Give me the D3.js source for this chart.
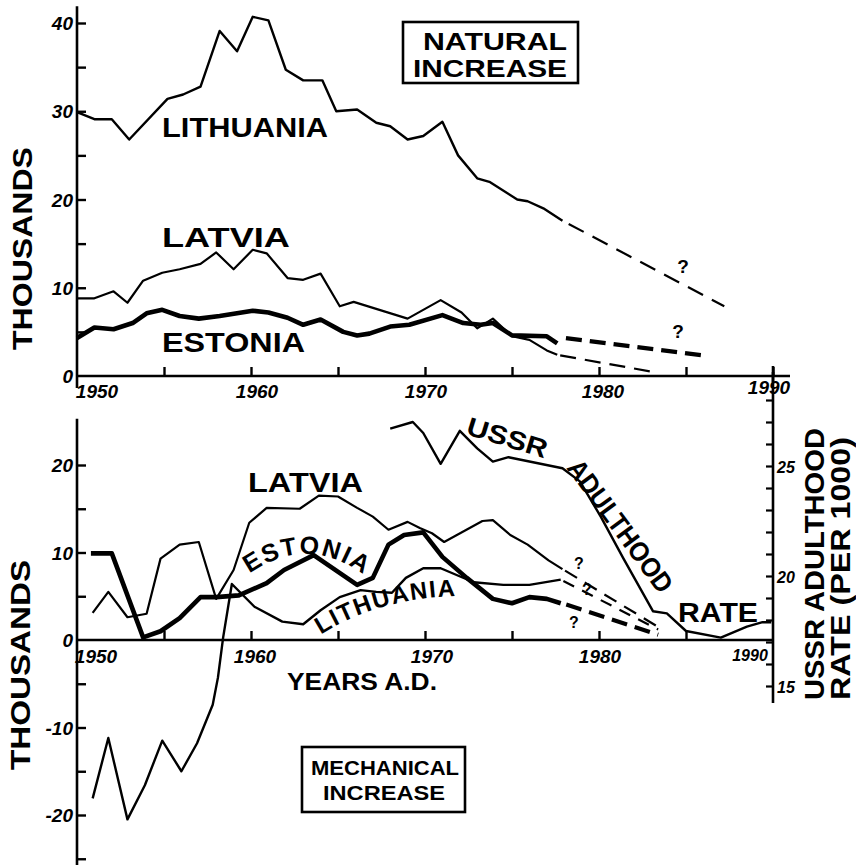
<!DOCTYPE html>
<html>
<head>
<meta charset="utf-8">
<script src="https://cdn.jsdelivr.net/npm/d3@7"></script>
<style>
  html, body { margin: 0; padding: 0; background: #fff; }
  svg { display: block; }
  text { font-family: "Liberation Sans", "DejaVu Sans", sans-serif; fill: #000; }
</style>
</head>
<body>
<svg id="chart" width="856" height="865"></svg>
<script>
// ---------------- DATA ----------------
// Natural increase (thousands)
const lithNatYears = [1950,1951,1952,1953,1955.2,1956.1,1957.1,1958.2,1959.2,1960.1,1961,1962,1963,1964.1,1964.9,1966.1,1967.2,1968,1969,1969.9,1971,1971.9,1973,1973.7,1975.3,1975.9,1976.8,1977.9];
const lithNatValues = [29.9,29.1,29.1,26.8,31.4,31.9,32.8,39.1,36.8,40.7,40.3,34.7,33.5,33.5,30.0,30.2,28.7,28.3,26.8,27.2,28.8,25.0,22.4,22.0,20.0,19.8,19.0,17.6];
const lithNatProjYears = [1977.9, 1987.2];
const lithNatProjValues = [17.6, 7.9];

const latNatYears = [1950,1951,1952.1,1952.9,1953.8,1954.9,1955.9,1957.1,1958,1959,1960.1,1960.9,1962.1,1963,1964,1965.1,1965.9,1969,1970.9,1972.1,1973,1973.9,1975,1976,1977,1977.6];
const latNatValues = [8.8,8.8,9.6,8.3,10.8,11.7,12.1,12.7,14.0,12.1,14.3,13.9,11.1,10.9,11.6,7.9,8.4,6.5,8.6,7.2,5.4,6.5,4.5,4.1,2.9,2.4];
const latNatProjYears = [1977.6, 1983];
const latNatProjValues = [2.4, 0.5];

const estNatYears = [1950,1951,1952.1,1953.2,1954,1954.9,1955.9,1957,1958.2,1960.1,1961,1962.1,1963,1964,1965.3,1966.1,1966.8,1968,1969.1,1971,1972.2,1973.2,1973.9,1975,1977,1977.6];
const estNatValues = [4.3,5.5,5.3,6.0,7.1,7.5,6.8,6.5,6.8,7.4,7.2,6.6,5.8,6.4,5.0,4.6,4.8,5.6,5.8,6.9,6.0,5.8,6.0,4.6,4.5,3.7];
const estNatProjYears = [1978.1, 1986.1];
const estNatProjValues = [4.3, 2.3];

// Mechanical increase (thousands)
const latMechYears = [1950.9,1951.8,1952.9,1954,1954.8,1955.9,1957,1958,1959,1959.9,1960.9,1962.8,1963.9,1965,1966.1,1967,1967.9,1969,1969.7,1970.4,1971.1,1973.3,1973.9,1974.9,1975.9,1977.1,1977.9];
const latMechValues = [3.1,5.5,2.6,3.0,9.3,10.9,11.2,4.7,8.0,13.4,15.1,15.0,16.5,16.4,15.1,14.1,12.6,13.5,12.8,12.2,11.2,13.6,13.7,12.0,10.9,9.1,8.1];
const latMechProjYears = [1977.9, 1983.4];
const latMechProjValues = [8.1, 1.5];

const estMechYears = [1950.8,1952,1953.8,1954.8,1955.9,1957.1,1958,1959.3,1960.9,1961.9,1963.6,1966.1,1967,1967.9,1968.8,1969.9,1971,1972.4,1973.9,1975,1976,1977,1977.8];
const estMechValues = [9.9,9.9,0.3,1.0,2.5,4.9,4.9,5.1,6.5,8.0,9.7,6.3,7.1,10.9,12.0,12.3,9.5,7.1,4.7,4.2,4.9,4.7,4.2];
const estMechProjYears = [1977.9, 1983.4];
const estMechProjValues = [4.2, 0.6];

const lithMechYears = [1950.9,1951.8,1952.9,1953.9,1954.9,1956,1956.9,1957.8,1958.1,1958.4,1958.9,1960.2,1961.8,1963,1964,1965.1,1966.3,1967.2,1968.1,1968.9,1969.9,1970.9,1972.8,1974.5,1976,1977.8];
const lithMechValues = [-18.1,-11.2,-20.5,-16.6,-11.5,-15.0,-11.8,-7.4,-4.3,0.3,6.4,3.8,2.1,1.8,3.4,4.9,5.7,5.5,5.4,7.1,8.2,8.2,6.6,6.3,6.3,6.9];
const lithMechProjYears = [1977.8, 1983.4];
const lithMechProjValues = [6.9, 1.2];

// USSR adulthood rate (per 1000)
const ussrYears = [1968,1969.3,1969.9,1970.9,1972,1973,1973.9,1974.8,1977.9,1978.9,1980.1,1981.4,1983.1,1983.9,1985,1987,1988.5,1989.4,1989.9];
const ussrValues = [26.7,27.0,26.5,25.1,26.6,25.8,25.2,25.4,24.9,24.3,22.7,20.8,18.4,18.3,17.5,17.2,17.7,17.9,17.9];

// Tick labels
const xLabelYears = [1950, 1960, 1970, 1980, 1990];
const topYTicks = [5,10,15,20,25,30,35,40];
const topYLabels = [0,10,20,30,40];
const botYTicks = [-25,-20,-15,-10,-5,5,10,15,20];
const botYLabels = [-20,-10,0,10,20];
const xTicks = [1955,1960,1965,1970,1975,1980,1985];
const rightTicks = [15,16,17,18,19,20,21,22,23,24,25,26,27,28];
const rightLabels = [15,20,25];

// ---------------- DRAWING ----------------
const svg = d3.select("#chart");
const x = d3.scaleLinear().domain([1950, 1990]).range([77, 773]);
const yTop = d3.scaleLinear().domain([0, 40]).range([376, 23]);
const yBot = d3.scaleLinear().domain([-20, 20]).range([815, 465]);
const yR = d3.scaleLinear().domain([15, 25]).range([686, 466]);

function pairs(xs, vs) { return xs.map((d, i) => [d, vs[i]]); }

function drawLine(xs, vs, yScale, width, dash, offset) {
  const line = d3.line().x(d => x(d[0])).y(d => yScale(d[1]));
  const p = svg.append("path")
    .attr("d", line(pairs(xs, vs)))
    .attr("fill", "none")
    .attr("stroke", "#000")
    .attr("stroke-width", width)
    .attr("stroke-linejoin", "round")
    .attr("stroke-linecap", "butt");
  if (dash) p.attr("stroke-dasharray", dash).attr("stroke-dashoffset", offset || 0);
  return p;
}

// ---- Top panel axes ----
svg.append("line").attr("x1", x(1950)).attr("x2", x(1990) + 17)
  .attr("y1", yTop(0)).attr("y2", yTop(0)).attr("stroke", "#000").attr("stroke-width", 2.6);
svg.append("line").attr("x1", x(1950)).attr("x2", x(1950))
  .attr("y1", yTop(41.9)).attr("y2", yTop(0) + 12).attr("stroke", "#000").attr("stroke-width", 2.6);

const topYAxis = d3.axisLeft(yTop).tickValues(topYTicks).tickSizeInner(-9).tickSizeOuter(0).tickFormat("");
const gTY = svg.append("g").attr("transform", `translate(${x(1950)},0)`).call(topYAxis);
gTY.select(".domain").remove();
gTY.selectAll("line").attr("stroke-width", 2.4);

svg.append("g").selectAll("text").data(topYLabels).join("text")
  .attr("x", 73).attr("y", d => yTop(d) + 7)
  .attr("text-anchor", "end").attr("font-size", 19).attr("font-weight", "bold").attr("font-style", "italic")
  .text(d => d);

const topXAxis = d3.axisBottom(x).tickValues(xTicks.concat([1990])).tickSizeInner(-9).tickSizeOuter(0).tickFormat("");
const gTX = svg.append("g").attr("transform", `translate(0,${yTop(0)})`).call(topXAxis);
gTX.select(".domain").remove();
gTX.selectAll("line").attr("stroke-width", 2.4);
svg.append("line").attr("x1", x(1990)).attr("x2", x(1990)).attr("y1", yTop(0) - 10).attr("y2", yTop(0) + 6)
  .attr("stroke", "#000").attr("stroke-width", 2.6);

const topXOffsets = {1950: 20, 1960: 6, 1970: 1, 1980: 4, 1990: -4};
svg.append("g").selectAll("text").data(xLabelYears).join("text")
  .attr("x", d => x(d) + topXOffsets[d]).attr("y", d => d === 1990 ? 394 : 398)
  .attr("text-anchor", "middle").attr("font-size", 19).attr("font-weight", "bold").attr("font-style", "italic")
  .text(d => d);

// ---- Bottom panel axes ----
svg.append("line").attr("x1", x(1950)).attr("x2", x(1990))
  .attr("y1", yBot(0)).attr("y2", yBot(0)).attr("stroke", "#000").attr("stroke-width", 2.6);
svg.append("line").attr("x1", x(1950)).attr("x2", x(1950))
  .attr("y1", yBot(25.3)).attr("y2", yBot(-27)).attr("stroke", "#000").attr("stroke-width", 2.6);

const botYAxis = d3.axisLeft(yBot).tickValues(botYTicks).tickSizeInner(-9).tickSizeOuter(0).tickFormat("");
const gBY = svg.append("g").attr("transform", `translate(${x(1950)},0)`).call(botYAxis);
gBY.select(".domain").remove();
gBY.selectAll("line").attr("stroke-width", 2.4);

svg.append("g").selectAll("text").data(botYLabels).join("text")
  .attr("x", 73).attr("y", d => yBot(d) + 7)
  .attr("text-anchor", "end").attr("font-size", 19).attr("font-weight", "bold").attr("font-style", "italic")
  .text(d => d);

const botXAxis = d3.axisBottom(x).tickValues(xTicks).tickSizeInner(-9).tickSizeOuter(0).tickFormat("");
const gBX = svg.append("g").attr("transform", `translate(0,${yBot(0)})`).call(botXAxis);
gBX.select(".domain").remove();
gBX.selectAll("line").attr("stroke-width", 2.4);

const botXOffsets = {1950: 19, 1960: 4, 1970: 7, 1980: 1, 1990: -23};
svg.append("g").selectAll("text").data(xLabelYears).join("text")
  .attr("x", d => x(d) + botXOffsets[d]).attr("y", d => d === 1990 ? 661 : 663)
  .attr("text-anchor", "middle").attr("font-size", d => d === 1990 ? 16 : 19)
  .attr("font-weight", "bold").attr("font-style", "italic")
  .text(d => d);

// ---- Right axis (USSR adulthood rate) ----
svg.append("line").attr("x1", x(1990)).attr("x2", x(1990))
  .attr("y1", 372).attr("y2", 703).attr("stroke", "#000").attr("stroke-width", 2.6);
const rAxis = d3.axisLeft(yR).tickValues(rightTicks).tickSizeInner(7).tickSizeOuter(0).tickFormat("");
const gR = svg.append("g").attr("transform", `translate(${x(1990)},0)`).call(rAxis);
gR.select(".domain").remove();
gR.selectAll("line").attr("stroke-width", 2.2);
svg.append("g").selectAll("text").data(rightLabels).join("text")
  .attr("x", x(1990) + 4).attr("y", d => yR(d) + 7)
  .attr("font-size", 16).attr("font-weight", "bold").attr("font-style", "italic")
  .text(d => d);

// ---- Series: natural increase ----
drawLine(lithNatYears, lithNatValues, yTop, 2.4);
drawLine(lithNatProjYears, lithNatProjValues, yTop, 2.2, "17 10", 20);
drawLine(latNatYears, latNatValues, yTop, 2.2);
drawLine(latNatProjYears, latNatProjValues, yTop, 2.2, "16 9", 22);
drawLine(estNatYears, estNatValues, yTop, 4.6);
drawLine(estNatProjYears, estNatProjValues, yTop, 4.2, "16 8", 0);

// ---- Series: mechanical increase ----
drawLine(latMechYears, latMechValues, yBot, 2.2);
drawLine(latMechProjYears, latMechProjValues, yBot, 2.2, "14 9", 20);
drawLine(lithMechYears, lithMechValues, yBot, 2.4);
drawLine(lithMechProjYears, lithMechProjValues, yBot, 2.2, "12 9", 18);
drawLine(estMechYears, estMechValues, yBot, 4.6);
drawLine(estMechProjYears, estMechProjValues, yBot, 4.0, "16 8", 20);
drawLine(ussrYears, ussrValues, yR, 2.4);

// ---- Labels ----
function label(txt, xx, yy, size, len, rot) {
  const t = svg.append("text")
    .attr("font-size", size).attr("font-weight", "bold")
    .attr("textLength", len).attr("lengthAdjust", "spacingAndGlyphs")
    .text(txt);
  if (rot) t.attr("transform", `translate(${xx},${yy}) rotate(${rot})`);
  else t.attr("x", xx).attr("y", yy);
  return t;
}

label("THOUSANDS", 32, 350, 28, 203, -90);
label("THOUSANDS", 30, 770, 28, 210, -90);

// Titles in boxes
svg.append("rect").attr("x", 403).attr("y", 22).attr("width", 175).attr("height", 61)
  .attr("fill", "none").attr("stroke", "#000").attr("stroke-width", 2.6);
label("NATURAL", 423, 50, 24, 144);
label("INCREASE", 413, 77, 24, 154);

svg.append("rect").attr("x", 302).attr("y", 747).attr("width", 163).attr("height", 65)
  .attr("fill", "none").attr("stroke", "#000").attr("stroke-width", 2.6);
label("MECHANICAL", 311, 775, 21, 148);
label("INCREASE", 323, 800, 21, 122);

// Top series labels
label("LITHUANIA", 162, 137, 27, 166);
label("LATVIA", 162, 247, 27, 128);
label("ESTONIA", 162, 352, 27, 143);

// Bottom series labels
label("LATVIA", 248, 492, 27, 115);
label("YEARS A.D.", 287, 690, 23, 150);
label("RATE", 678, 622, 27, 80);
label("USSR", 465, 434, 26, 83, 17);
label("ADULTHOOD", 566, 468, 27, 158, 53.6);

// Curved labels
const defs = svg.append("defs");
defs.append("path").attr("id", "estArc").attr("d", "M 246,576 Q 307,531 368,578");
defs.append("path").attr("id", "lithArc").attr("d", "M 310,642 Q 375,595 470,596");

svg.append("text").attr("font-size", 25).attr("font-weight", "bold").attr("letter-spacing", 2)
  .append("textPath").attr("href", "#estArc").attr("startOffset", "50%").attr("text-anchor", "middle")
  .text("ESTONIA");
svg.append("text").attr("font-size", 24).attr("font-weight", "bold").attr("letter-spacing", 1.5)
  .append("textPath").attr("href", "#lithArc").attr("startOffset", "50%").attr("text-anchor", "middle")
  .text("LITHUANIA");

// Right axis title
label("USSR  ADULTHOOD", 824, 700, 28, 272, -90);
label("RATE  (PER 1000)", 850, 700, 28, 263, -90);

// Question marks
const qMarks = [[683, 273], [678, 338], [579, 569], [587, 595], [574, 628]];
svg.append("g").selectAll("text").data(qMarks).join("text")
  .attr("x", d => d[0]).attr("y", d => d[1]).attr("text-anchor", "middle")
  .attr("font-size", (d, i) => i < 2 ? 19 : 16).attr("font-weight", "bold")
  .text("?");
</script>
</body>
</html>
